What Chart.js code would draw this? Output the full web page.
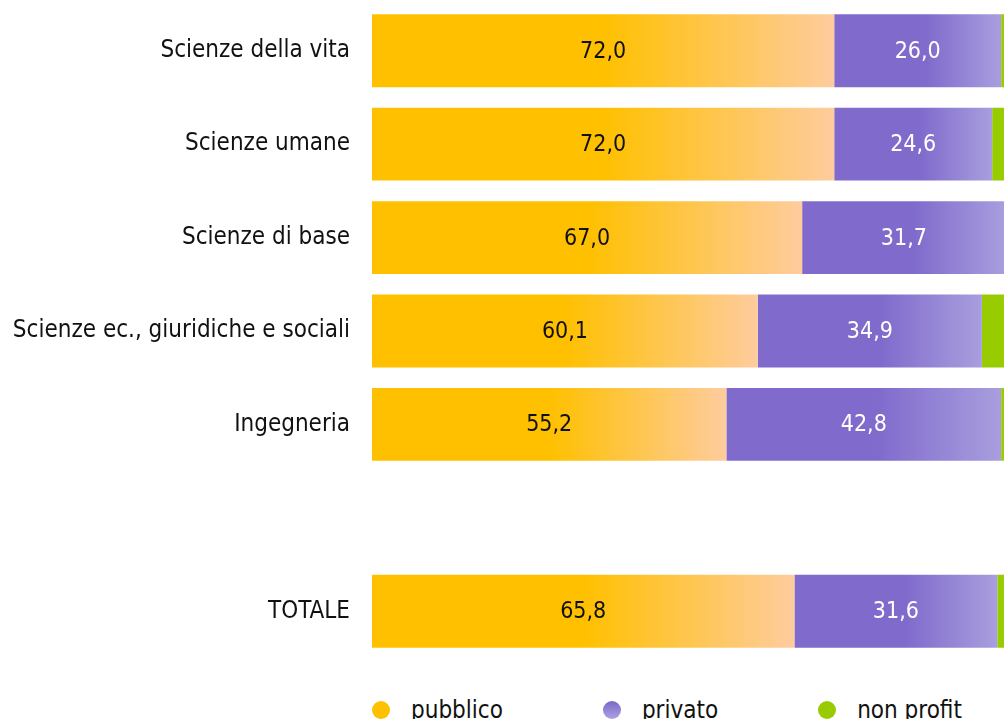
<!DOCTYPE html>
<html>
<head>
  <meta charset="utf-8">
  <title>Pubblico, privato, non profit per area</title>
  <style>
      body {
          margin: 0;
          padding: 0;
          background: #ffffff;
          overflow: hidden;
          font-family: "DejaVu Sans Condensed", "DejaVu Sans", sans-serif;
      }
      .wrap {
          position: relative;
          width: 1014px;
          height: 719px;
      }
      #barChart {
          position: absolute;
          left: 0;
          top: 0;
      }
      .legend {
          position: absolute;
          left: 372px;
          top: 696px;
          display: flex;
          gap: 100px;
          font-size: 24px;
          color: #111;
          white-space: nowrap;
      }
      .legend-item {
          display: flex;
          align-items: center;
      }
      .dot {
          display: inline-block;
          width: 18px;
          height: 18px;
          border-radius: 50%;
          margin-right: 21px;
      }
  </style>
</head>
<body>
  <div class="wrap">
      <canvas id="barChart" width="1014" height="658"></canvas>
      <div class="legend" id="legend"></div>
  </div>
  <script src="https://cdn.jsdelivr.net/npm/chart.js"></script>
  <script>
      // percentuali per area disciplinare (riga vuota prima del totale)
      const areas = ['Scienze della vita', 'Scienze umane', 'Scienze di base',
                     'Scienze ec., giuridiche e sociali', 'Ingegneria', '', 'TOTALE'];
      const pubblico  = [72.0, 72.0, 67.0, 60.1, 55.2, null, 65.8];
      const privato   = [26.0, 24.6, 31.7, 34.9, 42.8, null, 31.6];
      const nonProfit = [2.0, 3.4, 1.3, 5.0, 2.0, null, 2.6];

      const FONT = "'DejaVu Sans Condensed', 'DejaVu Sans', sans-serif";

      // horizontal gradient spanning one stacked segment
      function segmentFill(solid, light, stop) {
          return (ctx) => {
              const chart = ctx.chart;
              const x = chart.scales.x;
              if (ctx.type !== 'data' || !x) return solid;
              let start = 0;
              for (let i = 0; i < ctx.datasetIndex; i++) {
                  start += chart.data.datasets[i].data[ctx.dataIndex] || 0;
              }
              const x0 = x.getPixelForValue(start);
              const x1 = x.getPixelForValue(start + (ctx.raw || 0));
              if (!isFinite(x0) || !isFinite(x1) || x1 <= x0) return solid;
              const g = chart.ctx.createLinearGradient(x0, 0, x1, 0);
              g.addColorStop(0, solid);
              g.addColorStop(stop, solid);
              g.addColorStop(1, light);
              return g;
          };
      }

      // value labels centred in the first two segments
      const valueLabels = {
          id: 'valueLabels',
          afterDatasetsDraw(chart) {
              const ctx = chart.ctx;
              ctx.save();
              ctx.font = '23px ' + FONT;
              ctx.textAlign = 'center';
              ctx.textBaseline = 'middle';
              [0, 1].forEach(di => {
                  const meta = chart.getDatasetMeta(di);
                  meta.data.forEach((bar, i) => {
                      const v = chart.data.datasets[di].data[i];
                      if (v == null) return;
                      ctx.fillStyle = di === 0 ? '#111111' : '#ffffff';
                      ctx.fillText(v.toFixed(1).replace('.', ','), (bar.x + bar.base) / 2, bar.y + 1);
                  });
              });
              ctx.restore();
          }
      };

      const chart = new Chart(document.getElementById('barChart'), {
          type: 'bar',
          data: {
              labels: areas,
              datasets: [
                  {
                      label: 'pubblico',
                      data: pubblico,
                      backgroundColor: segmentFill('#FFC000', '#FECC9E', 0.5),
                      dotColor: 'radial-gradient(circle at 50% 40%, #FFC000 55%, #FDB800)'
                  },
                  {
                      label: 'privato',
                      data: privato,
                      backgroundColor: segmentFill('#806BCC', '#A99EDE', 0.55),
                      dotColor: 'linear-gradient(#7B66C9, #ADA2E0)'
                  },
                  {
                      label: 'non profit',
                      data: nonProfit,
                      backgroundColor: '#99CC00',
                      dotColor: '#99CC00'
                  }
              ]
          },
          options: {
              indexAxis: 'y',
              responsive: false,
              animation: false,
              layout: { padding: { top: 4, right: 0, bottom: 0, left: 0 } },
              datasets: {
                  bar: { barPercentage: 1, categoryPercentage: 0.78, borderWidth: 0 }
              },
              scales: {
                  x: {
                      stacked: true,
                      min: 0,
                      max: 100,
                      display: false
                  },
                  y: {
                      stacked: true,
                      grid: { display: false, drawTicks: false },
                      border: { display: false },
                      ticks: {
                          padding: 22,
                          color: '#111111',
                          font: { family: FONT, size: 24 }
                      },
                      afterFit(scale) {
                          scale.width = 372;
                          // no extra room above/below for the tick labels
                          scale.paddingTop = 0;
                          scale.paddingBottom = 0;
                      }
                  }
              },
              plugins: {
                  legend: { display: false },
                  tooltip: { enabled: false }
              }
          },
          plugins: [valueLabels]
      });

      // legend under the plot, built from the datasets
      const legend = document.getElementById('legend');
      chart.data.datasets.forEach(ds => {
          const item = document.createElement('span');
          item.className = 'legend-item';
          const dot = document.createElement('span');
          dot.className = 'dot';
          dot.style.background = ds.dotColor;
          item.appendChild(dot);
          item.appendChild(document.createTextNode(ds.label));
          legend.appendChild(item);
      });
  </script>
</body>
</html>
